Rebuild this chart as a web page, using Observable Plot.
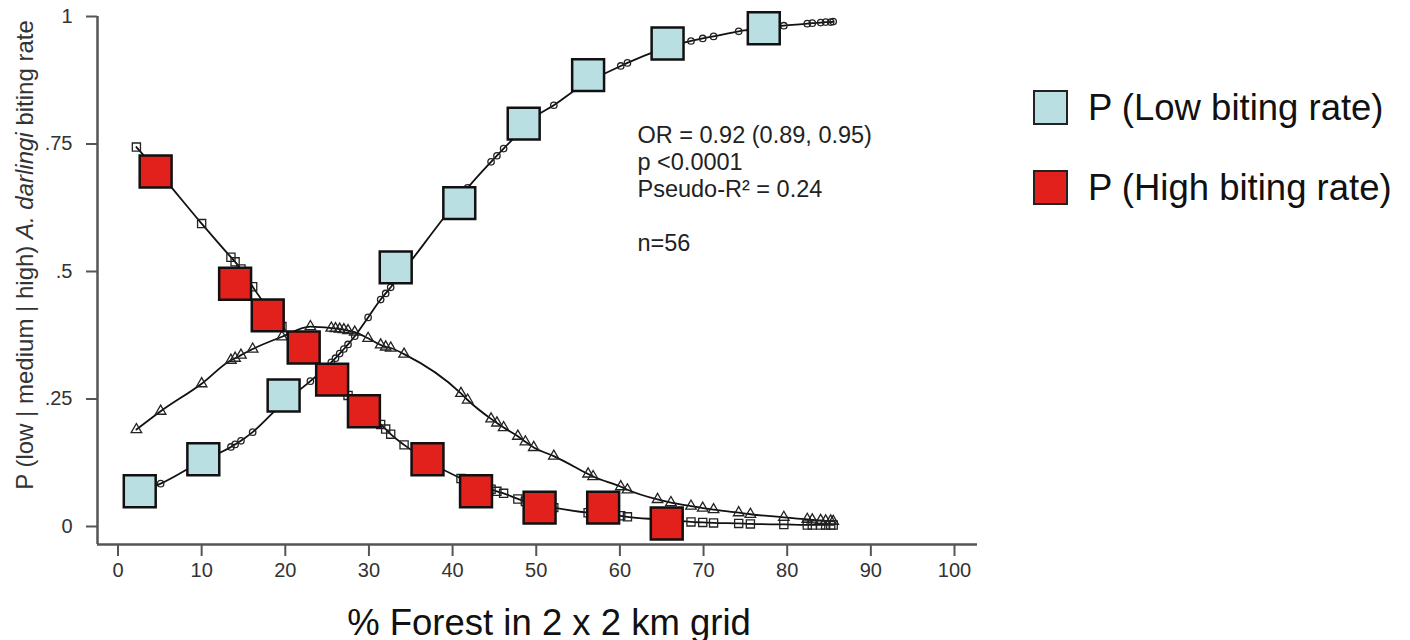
<!DOCTYPE html>
<html>
<head>
<meta charset="utf-8">
<script src="https://cdn.jsdelivr.net/npm/d3@7"></script>
<script src="https://cdn.jsdelivr.net/npm/@observablehq/plot@0.6"></script>
<style>
  html, body { margin: 0; padding: 0; background: #fff; }
  #wrap { position: relative; width: 1410px; height: 640px; font-family: "Liberation Sans", Arial, Helvetica, sans-serif; }
  #chart { position: absolute; left: 0; top: 0; }
  .xtitle { position: absolute; left: 549px; top: 604.5px; transform: translateX(-50%); font-size: 36.5px; line-height: 36px; color: #111; white-space: nowrap; }
  .lgbox { position: absolute; left: 1033px; width: 31px; height: 31px; border: 2px solid #222; }
  .lgtxt { position: absolute; left: 1088px; font-size: 36.5px; line-height: 36px; color: #111; white-space: nowrap; }
</style>
</head>
<body>
<div id="wrap">
  <div id="chart"></div>
  <div class="xtitle">% Forest in 2 x 2 km grid</div>
  <div id="legend"></div>
</div>
<script>
// ---- data ----
const forestPct = [2.2, 5.1, 10.0, 13.5, 14.0, 14.7, 16.1, 19.6, 23.0, 25.5, 26.0, 26.5, 27.0, 27.5, 28.3, 29.9, 31.4, 32.0, 32.6, 34.2, 41.0, 41.8, 44.6, 45.3, 46.1, 47.8, 48.7, 49.7, 52.1, 56.2, 56.8, 60.1, 60.9, 64.5, 66.1, 68.5, 69.9, 71.2, 74.2, 75.6, 79.6, 82.4, 83.0, 84.0, 84.6, 85.2, 85.5];
const pLow  = [0.066, 0.084, 0.128, 0.156, 0.161, 0.168, 0.185, 0.240, 0.285, 0.322, 0.330, 0.339, 0.348, 0.357, 0.373, 0.410, 0.445, 0.457, 0.469, 0.503, 0.648, 0.664, 0.715, 0.727, 0.741, 0.770, 0.786, 0.801, 0.826, 0.872, 0.877, 0.903, 0.909, 0.933, 0.942, 0.952, 0.957, 0.961, 0.971, 0.974, 0.982, 0.986, 0.987, 0.988, 0.989, 0.989, 0.990];
const pMed  = [0.190, 0.226, 0.280, 0.326, 0.330, 0.336, 0.348, 0.372, 0.392, 0.389, 0.388, 0.387, 0.386, 0.384, 0.381, 0.369, 0.356, 0.352, 0.350, 0.338, 0.261, 0.248, 0.211, 0.203, 0.194, 0.177, 0.166, 0.155, 0.138, 0.103, 0.098, 0.078, 0.072, 0.053, 0.047, 0.040, 0.036, 0.033, 0.027, 0.024, 0.018, 0.014, 0.013, 0.012, 0.011, 0.011, 0.010];
const pHigh = [0.744, 0.690, 0.594, 0.528, 0.519, 0.505, 0.470, 0.392, 0.330, 0.289, 0.281, 0.273, 0.265, 0.257, 0.245, 0.221, 0.200, 0.191, 0.181, 0.160, 0.094, 0.088, 0.073, 0.069, 0.065, 0.054, 0.049, 0.045, 0.037, 0.027, 0.026, 0.021, 0.019, 0.014, 0.012, 0.009, 0.008, 0.007, 0.006, 0.005, 0.004, 0.003, 0.003, 0.003, 0.003, 0.003, 0.003];

// highlighted large squares
const lowBoxX  = [2.6, 10.2, 19.8, 33.2, 40.8, 48.5, 56.2, 65.7, 77.2];
const lowBoxP  = [0.069, 0.132, 0.257, 0.508, 0.634, 0.790, 0.885, 0.947, 0.977];
const highBoxX = [4.5, 14.0, 17.9, 22.2, 25.6, 29.4, 37.0, 42.8, 50.4, 58.0, 65.6];
const highBoxP = [0.696, 0.476, 0.414, 0.351, 0.288, 0.226, 0.132, 0.069, 0.037, 0.037, 0.006];

const xTicks = [0, 10, 20, 30, 40, 50, 60, 70, 80, 90, 100];
const yTicks = [0, 0.25, 0.5, 0.75, 1];
const yTickLabels = ["0", ".25", ".5", ".75", "1"];

const statsText = ["OR = 0.92 (0.89, 0.95)", "p <0.0001", "Pseudo-R\u00B2 = 0.24", "", "n=56"];
const legendLabels = ["P (Low biting rate)", "P (High biting rate)"];
const colLow = "#b9dfe2", colHigh = "#e2211c";

// ---- build ----
const obs = forestPct.map((x, i) => ({x, low: pLow[i], med: pMed[i], high: pHigh[i]}));
const lowBoxes = lowBoxX.map((x, i) => ({x, p: lowBoxP[i]}));
const highBoxes = highBoxX.map((x, i) => ({x, p: highBoxP[i]}));

const xMin = -2.45, xMax = 102.75, yMin = -0.0353, yMax = 1;
const FONT = '"Liberation Sans", Arial, Helvetica, sans-serif';

const chart = Plot.plot({
  width: 1000, height: 640,
  marginLeft: 97, marginRight: 23, marginTop: 16, marginBottom: 96,
  x: {domain: [xMin, xMax]},
  y: {domain: [yMin, yMax]},
  style: {fontFamily: FONT, fontSize: "20px", color: "#333", background: "white", overflow: "visible"},
  marks: [
    Plot.ruleX([xMin], {y1: yMin, y2: yMax, stroke: "#555", strokeWidth: 2.5}),
    Plot.ruleY([yMin], {x1: xMin, x2: xMax, stroke: "#555", strokeWidth: 2.5}),
    Plot.axisX({ticks: xTicks, tickSize: 12, tickPadding: 6, tickFormat: d => String(d), label: null, stroke: "#555", strokeWidth: 2, fill: "#333"}),
    Plot.axisY({ticks: yTicks, tickSize: 11, tickPadding: 14, tickFormat: d => yTickLabels[yTicks.indexOf(d)], label: null, stroke: "#555", strokeWidth: 2, fill: "#333"}),
    Plot.line(obs, {x: "x", y: "low", curve: "monotone-x", stroke: "#111", strokeWidth: 1.8}),
    Plot.line(obs, {x: "x", y: "med", curve: "monotone-x", stroke: "#111", strokeWidth: 1.8}),
    Plot.line(obs, {x: "x", y: "high", curve: "monotone-x", stroke: "#111", strokeWidth: 1.8}),
    Plot.dot(obs, {x: "x", y: "low", symbol: "circle", r: 3.2, stroke: "#222", fill: "none", strokeWidth: 1.3}),
    Plot.dot(obs, {x: "x", y: "med", symbol: "triangle", r: 3.9, stroke: "#222", fill: "none", strokeWidth: 1.3}),
    Plot.dot(obs, {x: "x", y: "high", symbol: "square", r: 4.6, stroke: "#222", fill: "none", strokeWidth: 1.3}),
    Plot.dot(lowBoxes, {x: "x", y: "p", symbol: "square", r: 18, fill: colLow, stroke: "#111", strokeWidth: 2.5}),
    Plot.dot(highBoxes, {x: "x", y: "p", symbol: "square", r: 18, fill: colHigh, stroke: "#111", strokeWidth: 2.5}),
    Plot.text([statsText.join("\n")], {x: 62.1, y: 0.789, text: d => d, textAnchor: "start", lineAnchor: "top", lineHeight: 1.15, fontSize: 23.5, fill: "#222"})
  ]
});
document.getElementById("chart").appendChild(chart);

// y-axis title with italic species name
const svg = d3.select(chart.tagName.toLowerCase() === "svg" ? chart : chart.querySelector("svg"));
const yt = svg.append("text")
  .attr("transform", "translate(33,255) rotate(-90)")
  .attr("text-anchor", "middle")
  .attr("font-size", 24)
  .attr("font-family", FONT)
  .attr("fill", "#333");
yt.append("tspan").text("P (low | medium | high) ");
yt.append("tspan").attr("font-style", "italic").text("A. darlingi");
yt.append("tspan").text(" biting rate");

// legend
const lg = document.getElementById("legend");
const lgTops = [90, 170];
legendLabels.forEach((lab, i) => {
  const b = document.createElement("div");
  b.className = "lgbox";
  b.style.top = lgTops[i] + "px";
  b.style.background = i === 0 ? colLow : colHigh;
  lg.appendChild(b);
  const t = document.createElement("div");
  t.className = "lgtxt";
  t.style.top = (lgTops[i] - 0.5) + "px";
  t.textContent = lab;
  lg.appendChild(t);
});
</script>
</body>
</html>
